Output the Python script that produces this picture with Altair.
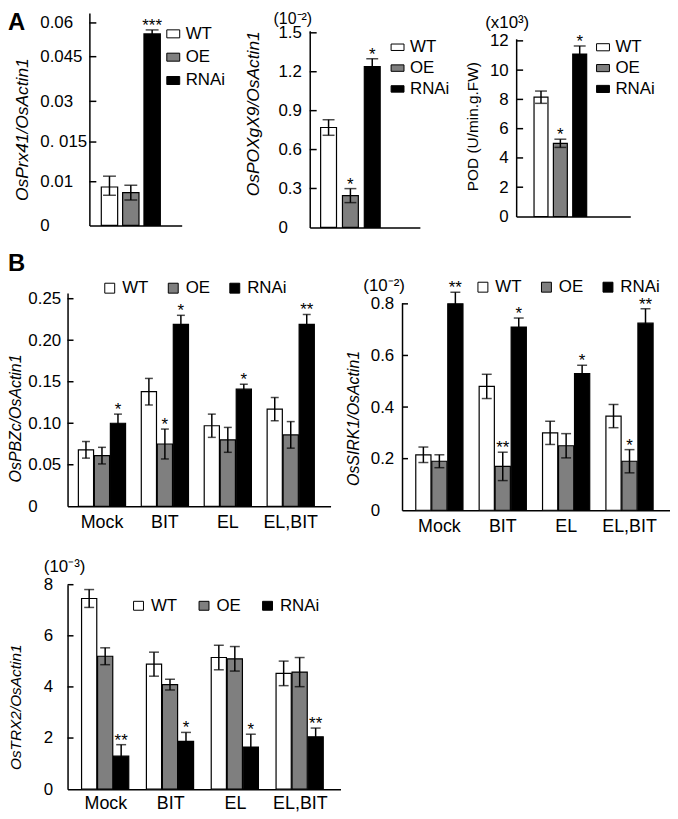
import altair as alt
import pandas as pd

FONT = "Liberation Sans"

genotypes = ["WT", "OE", "RNAi"]
fill_colors = ["#ffffff", "#7f7f7f", "#000000"]
treatments = ["Mock", "BIT", "EL", "EL,BIT"]

# ---- Panel A ----
prx41_mean = [0.0088, 0.0075, 0.0551]
prx41_err = [0.0019, 0.0017, 0.0018]
prx41_sig = ["", "", "***"]
prx41_ticks = [0, 0.01, 0.015, 0.03, 0.045, 0.06]

poxgx9_mean = [0.77, 0.245, 1.24]
poxgx9_err = [0.06, 0.054, 0.06]
poxgx9_sig = ["", "*", "*"]
poxgx9_ticks = [0, 0.3, 0.6, 0.9, 1.2, 1.5]

pod_mean = [8.15, 5.0, 11.1]
pod_err = [0.42, 0.28, 0.55]
pod_sig = ["", "*", "*"]
pod_ticks = [0, 2, 4, 6, 8, 10, 12]

# ---- Panel B: OsPBZc ----
pbzc_mean = [[0.068, 0.138, 0.097, 0.117],
             [0.061, 0.075, 0.080, 0.086],
             [0.100, 0.219, 0.141, 0.219]]
pbzc_err = [[0.010, 0.016, 0.014, 0.014],
            [0.010, 0.018, 0.015, 0.016],
            [0.011, 0.011, 0.006, 0.012]]
pbzc_sig = [["", "", "", ""],
            ["", "*", "", ""],
            ["*", "*", "*", "**"]]
pbzc_ticks = [0, 0.05, 0.10, 0.15, 0.20, 0.25]

# ---- Panel B: OsSIRK1 ----
sirk1_mean = [[0.215, 0.48, 0.30, 0.365],
              [0.19, 0.17, 0.25, 0.19],
              [0.80, 0.71, 0.53, 0.725]]
sirk1_err = [[0.03, 0.047, 0.045, 0.045],
             [0.025, 0.055, 0.047, 0.045],
             [0.045, 0.035, 0.032, 0.056]]
sirk1_sig = [["", "", "", ""],
             ["", "**", "", "*"],
             ["**", "*", "*", "**"]]
sirk1_ticks = [0, 0.2, 0.4, 0.6, 0.8]

# ---- Panel B: OsTRX2 ----
trx2_mean = [[7.46, 4.89, 5.15, 4.53],
             [5.2, 4.09, 5.1, 4.58],
             [1.29, 1.87, 1.65, 2.05]]
trx2_err = [[0.35, 0.47, 0.48, 0.48],
            [0.33, 0.21, 0.48, 0.57],
            [0.45, 0.35, 0.5, 0.34]]
trx2_sig = [["", "", "", ""],
            ["", "", "", ""],
            ["**", "*", "*", "**"]]
trx2_ticks = [0, 2, 4, 6, 8]


def df_a(mean, err, sig):
    df = pd.DataFrame({"genotype": genotypes, "mean": mean, "err": err, "sig": sig})
    df["lo"] = df["mean"] - df["err"]
    df["hi"] = df["mean"] + df["err"]
    return df


def df_b(means, errs, sigs):
    rows = []
    for g, ml, el, sl in zip(genotypes, means, errs, sigs):
        for t, m, e, s in zip(treatments, ml, el, sl):
            rows.append({"treatment": t, "genotype": g, "mean": m, "err": e,
                         "sig": s, "lo": m - e, "hi": m + e})
    return pd.DataFrame(rows)


def legend(x, y, shape, size, direction="vertical", row_pad=3, col_pad=16):
    return alt.Legend(title=None, orient="none", legendX=x, legendY=y, direction=direction,
                      symbolType=shape, symbolSize=size, symbolStrokeColor="black",
                      symbolStrokeWidth=1, symbolOpacity=1, labelFontSize=17, labelFont=FONT,
                      labelColor="black", labelOffset=4, rowPadding=row_pad,
                      columnPadding=col_pad, padding=0)


def yaxis(title, values, fmt, label_expr, title_x, title_y, title_size, label_pad,
          label_align, italic=True, offset=0):
    return alt.Axis(title=title, values=values, format=fmt, labelExpr=label_expr,
                    titleX=title_x, titleY=title_y, titleAngle=270, titleAlign="center",
                    titleBaseline="middle", titleFontSize=title_size,
                    titleFontStyle="italic" if italic else "normal", titleFontWeight="normal",
                    labelFontSize=17, labelPadding=label_pad, labelAlign=label_align,
                    labelBaseline="middle", ticks=False, domainWidth=1.5, offset=offset,
                    grid=False)


def annotation(text, x, y, size=17, weight="normal", align="center", baseline="middle"):
    return alt.Chart(pd.DataFrame({"t": [text]})).mark_text(
        font=FONT, fontSize=size, fontWeight=weight, align=align, baseline=baseline,
        color="black").encode(x=alt.value(x), y=alt.value(y), text="t:N")


def panel(df, x, xoffset, yscale, yax, leg, cap, tick_values, tick_x, tick_len,
          annotations, width, height):
    enc = {"x": x} if xoffset is None else {"x": x, "xOffset": xoffset}
    base = alt.Chart(df)
    bars = base.mark_bar(stroke="black", strokeWidth=1.2).encode(
        y=alt.Y("mean:Q", scale=yscale, axis=yax),
        fill=alt.Fill("genotype:N", scale=alt.Scale(domain=genotypes, range=fill_colors),
                      legend=leg),
        **enc)
    rule = base.mark_rule(color="black", strokeWidth=1.5).encode(
        y=alt.Y("lo:Q", scale=yscale, axis=yax), y2="hi:Q", **enc)
    cap_hi = base.mark_tick(color="black", thickness=1.5, size=cap).encode(
        y=alt.Y("hi:Q", scale=yscale, axis=yax), **enc)
    cap_lo = base.mark_tick(color="black", thickness=1.5, size=cap).encode(
        y=alt.Y("lo:Q", scale=yscale, axis=yax), **enc)
    stars = base.mark_text(font=FONT, fontSize=17, baseline="alphabetic", dy=1,
                           color="black").encode(
        y=alt.Y("hi:Q", scale=yscale, axis=yax), text="sig:N", **enc)
    ticks = alt.Chart(pd.DataFrame({"v": tick_values})).mark_rule(
        color="black", strokeWidth=1.5).encode(
        y=alt.Y("v:Q", scale=yscale, axis=yax),
        x=alt.value(tick_x), x2=alt.value(tick_x + tick_len))
    return alt.layer(bars, rule, cap_hi, cap_lo, stars, ticks, *annotations).properties(
        width=width, height=height)


def xa(rng, n_extra, pi, po, al):
    dom = genotypes + ["_" * (k + 1) for k in range(n_extra)]
    kw = dict(domain=dom, paddingInner=pi, paddingOuter=po, align=al)
    if rng is not None:
        kw["range"] = rng
    return alt.X("genotype:N", scale=alt.Scale(**kw),
                 axis=alt.Axis(labels=False, ticks=False, title=None, domainWidth=1.5))


def xb(pi, po, al, pad=7):
    return alt.X("treatment:N", scale=alt.Scale(domain=treatments, paddingInner=pi,
                                                 paddingOuter=po, align=al),
                 axis=alt.Axis(title=None, labelAngle=0, ticks=False, labelFontSize=18,
                               labelPadding=pad, domainWidth=1.5, labelBaseline="top"))


xoff = alt.XOffset("genotype:N", scale=alt.Scale(domain=genotypes, paddingInner=0.05,
                                                 paddingOuter=0))

# A1
ys_a1 = alt.Scale(domain=[0, 0.01, 0.015, 0.03, 0.045, 0.06, 0.0625],
                  range=[214, 170, 130, 89, 44, 10, 0], nice=False, zero=False)
a1 = panel(
    df_a(prx41_mean, prx41_err, prx41_sig),
    xa([22, 115], 0, 0.233, 0.78, 0.358), None, ys_a1,
    yaxis("OsPrx41/OsActin1", prx41_ticks, ".3~f",
          "datum.label == '0.015' ? '0. 015' : datum.label", -67, 117, 17.5, 50, "left",
          offset=-22),
    legend(98, 12.5, "M-1,-0.62H1V0.62H-1Z", 169, row_pad=5.5), 13,
    prx41_ticks[1:], 22, 7,
    [annotation("A", -60, 17, size=24, weight="bold", align="left", baseline="alphabetic")],
    172, 214)

# A2
ys_a2 = alt.Scale(domain=[0, 1.515], range=[216, 18], nice=False, zero=False)
a2 = panel(
    df_a(poxgx9_mean, poxgx9_err, poxgx9_sig),
    xa([0, 111], 1, 0.273, 0.659, 0.379), None, ys_a2,
    yaxis("OsPOXgX9/OsActin1", poxgx9_ticks, ".1f",
          "datum.value == 0 ? '0' : datum.label", -57, 101, 17.5, 32, "left"),
    legend(80, 26, "M-1,-0.5H1V0.5H-1Z", 169, row_pad=3), 12,
    poxgx9_ticks[1:], 0, 7,
    [annotation("(10⁻²)", -17, 6.5, size=16)],
    136, 216)

# A3
ys_a3 = alt.Scale(domain=[0, 12.14], range=[205, 26], nice=False, zero=False)
a3 = panel(
    df_a(pod_mean, pod_err, pod_sig),
    xa(None, 2, 0.28, 0.589, 0.784), None, ys_a3,
    yaxis("POD (U/min.g.FW)", pod_ticks, "d", "datum.label", -44, 114, 15.5, 8, "right",
          italic=False),
    legend(79, 26, "M-1,-0.55H1V0.55H-1Z", 169, row_pad=3), 12,
    pod_ticks[1:], 0, 7,
    [annotation("(x10³)", -9, 10)],
    115, 205)

# B1
ys_b1 = alt.Scale(domain=[0, 0.257], range=[215, 0], nice=False, zero=False)
b1 = panel(
    df_b(pbzc_mean, pbzc_err, pbzc_sig),
    xb(0.25, 0.215, 0.40), xoff, ys_b1,
    yaxis("OsPBZc/OsActin1", pbzc_ticks, ".2f",
          "datum.value == 0 ? '0' : datum.label", -52, 126, 16, 40, "left"),
    legend(34, -13.5, "square", 100, direction="horizontal", col_pad=16), 8,
    pbzc_ticks[1:], 0, 6,
    [annotation("B", -60, -22, size=24, weight="bold", align="left", baseline="alphabetic")],
    265, 215)

# B2
ys_b2 = alt.Scale(domain=[0, 0.804], range=[219, 10], nice=False, zero=False)
b2 = panel(
    df_b(sirk1_mean, sirk1_err, sirk1_sig),
    xb(0.254, 0.241, 0.45), xoff, ys_b2,
    yaxis("OsSIRK1/OsActin1", sirk1_ticks, ".1f",
          "datum.value == 0 ? '0' : datum.label", -49, 126, 16, 32, "left"),
    legend(73, -14.5, "square", 100, direction="horizontal", col_pad=16), 10,
    sirk1_ticks[1:], 0, 6,
    [annotation("(10⁻²)", -18, -7)],
    270, 219)

# C
ys_c = alt.Scale(domain=[0, 8], range=[207, 1], nice=False, zero=False)
c = panel(
    df_b(trx2_mean, trx2_err, trx2_sig),
    xb(0.25, 0.23, 0.47, pad=5), xoff, ys_c,
    yaxis("OsTRX2/OsActin1", trx2_ticks, "d", "datum.label", -52.25, 124, 15.5, 15,
          "right"),
    legend(63, 13.5, "M-1,-0.9H1V0.9H-1Z", 100, direction="horizontal", col_pad=18), 10,
    trx2_ticks[1:], 0, 6,
    [annotation("(10⁻³)", -3, -16.5), annotation(" ", 0, -31, baseline="top")],
    275, 207)

row_a = alt.hconcat(a1, a2, a3, spacing=72, bounds="flush").resolve_scale(
    fill="independent").resolve_legend(fill="independent")
row_b = alt.hconcat(b1, b2, spacing=72, bounds="flush").resolve_scale(
    fill="independent").resolve_legend(fill="independent")

chart = alt.vconcat(row_a, row_b, c, spacing=17).resolve_scale(
    fill="independent").resolve_legend(fill="independent").properties(
    padding=0
).configure_view(stroke=None).configure_axis(
    labelFont=FONT, titleFont=FONT, labelColor="black", titleColor="black",
    domainColor="black", tickColor="black", grid=False
).configure_legend(labelFont=FONT)

chart.save("out.html", embed_options={"renderer": "svg", "actions": False})
